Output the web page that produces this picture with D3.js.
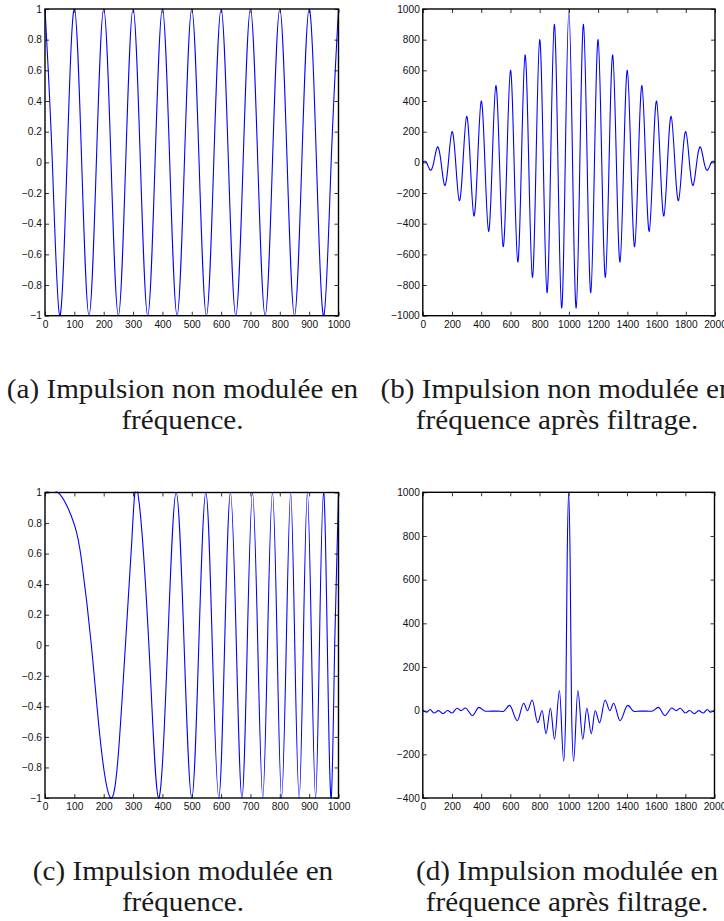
<!DOCTYPE html>
<html><head><meta charset="utf-8">
<script src="https://cdn.jsdelivr.net/npm/d3@7/dist/d3.min.js"></script>
<style>
body{margin:0;background:#fff}
svg{display:block}
.tick text{font-family:"Liberation Sans Narrow","Liberation Sans",Arial,sans-serif;font-size:10.2px;fill:#111}
.cap{font-family:"Liberation Serif","Times New Roman",serif;font-size:26.5px;fill:#1a1a1a}
</style>
</head><body>
<svg id="chart" width="724" height="921"></svg>
<script>
// ---------- data ----------
// (a) unmodulated pulse: extremes and zero crossings
const aX = [0,25,50,75,100,125,150,175,200,225,250,275,300,325,350,375,400,425,450,475,500,525,550,575,600,625,650,675,700,725,750,775,800,825,850,875,900,925,950,975,1000];
const aY = [1,0,-1,0,1,0,-1,0,1,0,-1,0,1,0,-1,0,1,0,-1,0,1,0,-1,0,1,0,-1,0,1,0,-1,0,1,0,-1,0,1,0,-1,0,1];
// (b) unmodulated pulse after filtering
const bX = [0,25,50,75,100,125,150,175,200,225,250,275,300,325,350,375,400,425,450,475,500,525,550,575,600,625,650,675,700,725,750,775,800,825,850,875,900,925,950,975,1000,1025,1050,1075,1100,1125,1150,1175,1200,1225,1250,1275,1300,1325,1350,1375,1400,1425,1450,1475,1500,1525,1550,1575,1600,1625,1650,1675,1700,1725,1750,1775,1800,1825,1850,1875,1900,1925,1950,1975,2000];
const bY = [0,0,-50,0,100,0,-150,0,200,0,-250,0,300,0,-350,0,400,0,-450,0,500,0,-550,0,600,0,-650,0,700,0,-750,0,800,0,-850,0,900,0,-950,0,1000,0,-950,0,900,0,-850,0,800,0,-750,0,700,0,-650,0,600,0,-550,0,500,0,-450,0,400,0,-350,0,300,0,-250,0,200,0,-150,0,100,0,-50,0,0];
// (c) frequency-modulated pulse (chirp)
const cX = [0,50,100,125,158,190,224,250,274,296,316,354,387,418,447,474,500,524,548,570,592,612,632,652,671,689,707,725,742,758,775,791,806,822,837,851,866,880,894,908,922,935,949,962,975,987,1000];
const cY = [1,0.99,0.79,0.55,0,-0.65,-1,-0.71,0,0.69,1,0,-1,0,1,0,-1,0,1,0,-1,0,1,0,-1,0,1,0,-1,0,1,0,-1,0,1,0,-1,0,1,0,-1,0,1,0,-1,0,1];
// (d) modulated pulse after filtering (compressed)
const dX = [0,27,50,78,108,138,170,200,235,262,292,340,385,430,470,510,550,595,648,692,717,750,788,818,845,875,903,937,966,980,990,1000,
            1010,1020,1034,1063,1097,1125,1155,1182,1212,1250,1283,1308,1352,1405,1450,1490,1530,1570,1615,1660,1708,1738,1765,1800,1830,1862,1892,1922,1950,1973,2000];
const dY = [2,-7,5,-11,0,-14,1,-11,11,0,12,-22,15,-3,-2,-2,-4,24,-46,34,0,49,-55,1,-106,11,-131,92,-232,0,700,1000,
            700,0,-232,92,-131,11,-106,1,-55,49,0,34,-46,24,-4,-2,-2,-3,15,-22,12,0,11,-11,1,-14,0,-11,5,-7,2];

// tick values
const ticks01000 = [0,100,200,300,400,500,600,700,800,900,1000];
const ticks02000 = [0,200,400,600,800,1000,1200,1400,1600,1800,2000];
const ticksUnit = [-1,-0.8,-0.6,-0.4,-0.2,0,0.2,0.4,0.6,0.8,1];
const ticksB = [-1000,-800,-600,-400,-200,0,200,400,600,800,1000];
const ticksD = [-400,-200,0,200,400,600,800,1000];

// captions
const captions = [
  ["(a) Impulsion non modulée en", "fréquence."],
  ["(b) Impulsion non modulée en", "fréquence après filtrage."],
  ["(c) Impulsion modulée en", "fréquence."],
  ["(d) Impulsion modulée en", "fréquence après filtrage."]
];

// ---------- layout ----------
const svg = d3.select("#chart");
const panels = [
  {x:aX, y:aY, xd:[0,1000], yd:[-1,1], xt:ticks01000, yt:ticksUnit, box:[45,338.5,9,315.7], curve:d3.curveNatural, cx:182.5, cy:398},
  {x:bX, y:bY, xd:[0,2000], yd:[-1000,1000], xt:ticks02000, yt:ticksB, box:[422.8,715,9,315.7], curve:d3.curveNatural, cx:557, cy:398},
  {x:cX, y:cY, xd:[0,1000], yd:[-1,1], xt:ticks01000, yt:ticksUnit, box:[45,338.5,492.5,798], curve:d3.curveNatural, cx:183, cy:880},
  {x:dX, y:dY, xd:[0,2000], yd:[-400,1000], xt:ticks02000, yt:ticksD, box:[422.8,714.5,492.3,798], curve:d3.curveMonotoneX, cx:567, cy:880}
];
const fmt = d3.format("");
const TL = 4;

panels.forEach((p, i) => {
  const [x0,x1,y0,y1] = p.box;
  const xs = d3.scaleLinear().domain(p.xd).range([x0,x1]);
  const ys = d3.scaleLinear().domain(p.yd).range([y1,y0]);
  const g = svg.append("g");

  const clipId = "clip"+i;
  svg.append("clipPath").attr("id", clipId).append("rect")
    .attr("x", x0-1).attr("y", y0-1).attr("width", x1-x0+2).attr("height", y1-y0+2);

  const pts = p.x.map((v,k)=>[v, p.y[k]]);
  g.append("path").datum(pts)
    .attr("clip-path", `url(#${clipId})`)
    .attr("fill","none").attr("stroke","#0000ff").attr("stroke-width",1.1)
    .attr("d", d3.line().x(d=>xs(d[0])).y(d=>ys(d[1])).curve(p.curve));

  const axB = g.append("g").attr("transform",`translate(0,${y1})`)
    .call(d3.axisBottom(xs).tickValues(p.xt).tickFormat(fmt).tickSize(-TL).tickSizeOuter(0).tickPadding(5));
  const axT = g.append("g").attr("transform",`translate(0,${y0})`)
    .call(d3.axisTop(xs).tickValues(p.xt).tickFormat("").tickSize(-TL).tickSizeOuter(0));
  const axL = g.append("g").attr("transform",`translate(${x0},0)`)
    .call(d3.axisLeft(ys).tickValues(p.yt).tickFormat(fmt).tickSize(-TL).tickSizeOuter(0).tickPadding(3));
  const axR = g.append("g").attr("transform",`translate(${x1},0)`)
    .call(d3.axisRight(ys).tickValues(p.yt).tickFormat("").tickSize(-TL).tickSizeOuter(0));
  [axB,axT,axL,axR].forEach(a=>{
    a.select(".domain").remove();
    a.selectAll(".tick line").attr("stroke","#000").attr("stroke-width",0.8);
    a.attr("font-family",null).attr("font-size",null);
  });

  g.append("rect").attr("x",x0).attr("y",y0).attr("width",x1-x0).attr("height",y1-y0)
    .attr("fill","none").attr("stroke","#000").attr("stroke-width",1.4);

  // captions
  captions[i].forEach((line, k) => {
    const t = g.append("text").attr("class","cap")
      .attr("x", p.cx).attr("y", p.cy + k*31).attr("text-anchor","middle").text(line);
    const w = t.node().getComputedTextLength();
    t.attr("textLength", w*1.1).attr("lengthAdjust","spacingAndGlyphs");
  });
});
</script>
</body></html>
